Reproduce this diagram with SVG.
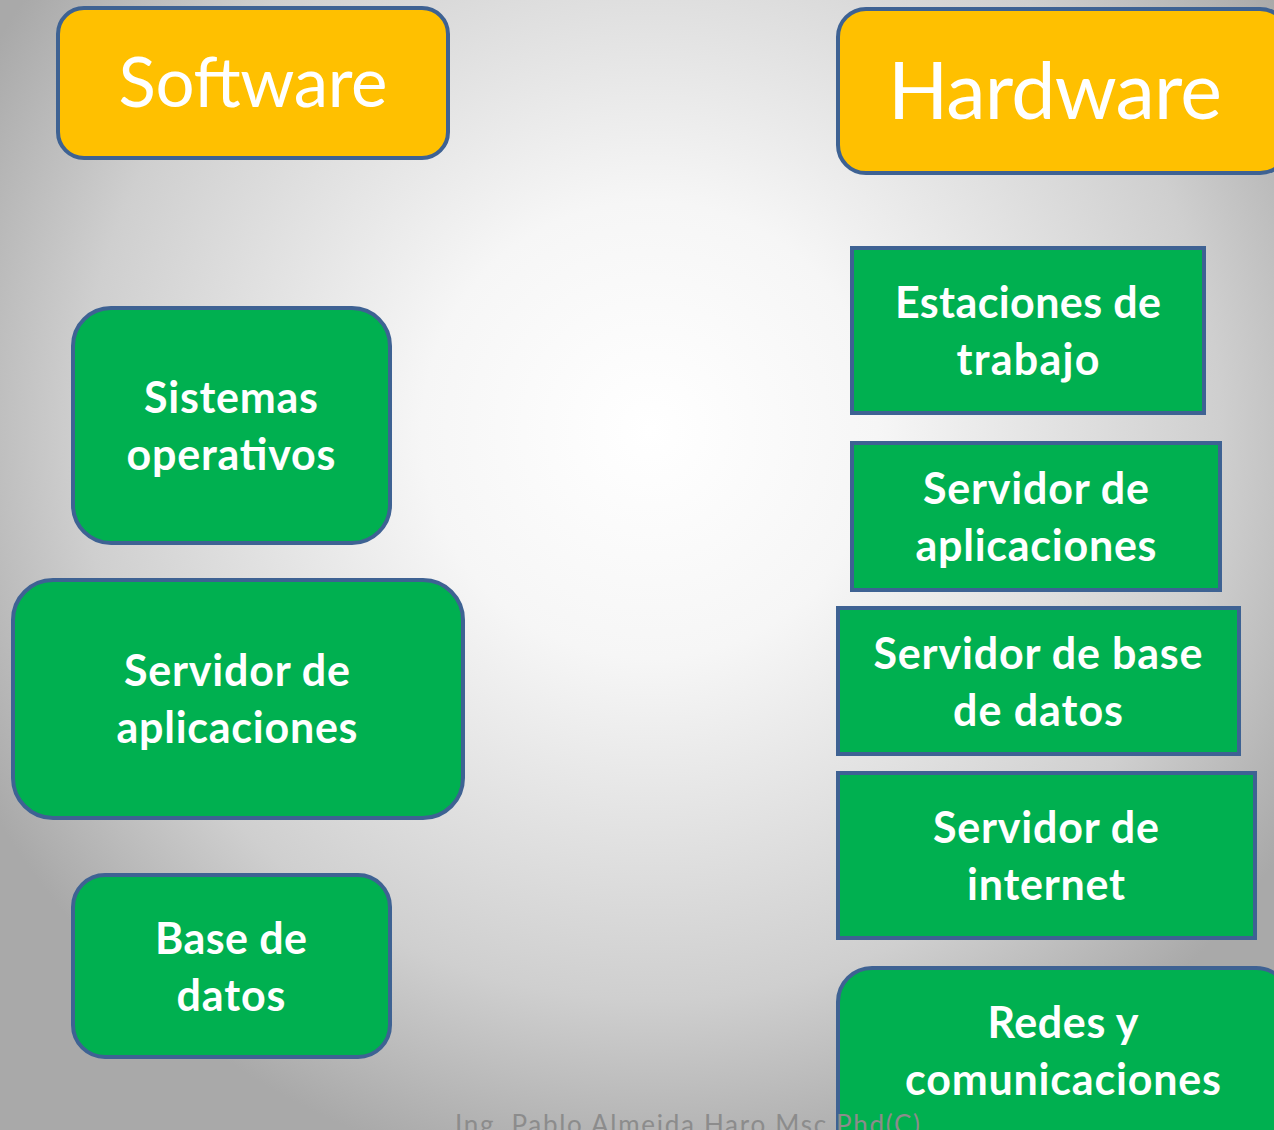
<svg xmlns="http://www.w3.org/2000/svg" width="1274" height="1130" viewBox="0 0 1274 1130">
<defs>
<radialGradient id="bg" gradientUnits="userSpaceOnUse" cx="650" cy="430" r="760">
<stop offset="0" stop-color="#ffffff"/>
<stop offset="0.3" stop-color="#f6f6f6"/>
<stop offset="0.75" stop-color="#cfcfcf"/>
<stop offset="1" stop-color="#a9a9a9"/>
</radialGradient>
<style>
.hdr{fill:#FFC000;stroke:#3E6293;stroke-width:4}
.box{fill:#00B050;stroke:#3E6293;stroke-width:4}
.ht{font-family:Lato,"Open Sans",sans-serif;fill:#ffffff;text-anchor:middle}
.bt{font-family:Lato,"Open Sans",sans-serif;font-weight:bold;font-size:43px;fill:#ffffff;text-anchor:middle}
.ft{font-family:Lato,"Open Sans",sans-serif;font-size:26px;fill:#8c8c8c}
</style>
</defs>
<rect x="0" y="0" width="1274" height="1130" fill="url(#bg)"/>
<g id="software">
<rect class="hdr" x="58" y="8" width="390" height="150" rx="26"/>
<text class="ht" x="253" y="107" font-size="69" textLength="269">Software</text>
</g>
<g id="hardware">
<rect class="hdr" x="838" y="9" width="450" height="164" rx="28"/>
<text class="ht" x="1055" y="119" font-size="79" textLength="334">Hardware</text>
</g>
<g id="sistemas">
<rect class="box" x="73" y="308" width="317" height="235" rx="38"/>
<text class="bt" x="231" y="413" textLength="174">Sistemas</text>
<text class="bt" x="231" y="470" textLength="209">operativos</text>
</g>
<g id="servidor-aplicaciones-sw">
<rect class="box" x="13" y="580" width="450" height="238" rx="40"/>
<text class="bt" x="237" y="686" textLength="226">Servidor de</text>
<text class="bt" x="237" y="743" textLength="241">aplicaciones</text>
</g>
<g id="base-datos">
<rect class="box" x="73" y="875" width="317" height="182" rx="32"/>
<text class="bt" x="231" y="954" textLength="152">Base de</text>
<text class="bt" x="231" y="1011" textLength="109">datos</text>
</g>
<g id="estaciones">
<rect class="box" x="852" y="248" width="352" height="165"/>
<text class="bt" x="1028" y="318" textLength="266">Estaciones de</text>
<text class="bt" x="1028" y="375" textLength="143">trabajo</text>
</g>
<g id="servidor-aplicaciones-hw">
<rect class="box" x="852" y="443" width="368" height="147"/>
<text class="bt" x="1036" y="504" textLength="226">Servidor de</text>
<text class="bt" x="1036" y="561" textLength="241">aplicaciones</text>
</g>
<g id="servidor-bd">
<rect class="box" x="838" y="608" width="401" height="146"/>
<text class="bt" x="1038" y="669" textLength="329">Servidor de base</text>
<text class="bt" x="1038" y="726" textLength="170">de datos</text>
</g>
<g id="servidor-internet">
<rect class="box" x="838" y="773" width="417" height="165"/>
<text class="bt" x="1046" y="843" textLength="226">Servidor de</text>
<text class="bt" x="1046" y="900" textLength="158">internet</text>
</g>
<g id="redes">
<rect class="box" x="838" y="968" width="452" height="200" rx="34"/>
<text class="bt" x="1063" y="1038" textLength="151">Redes y</text>
<text class="bt" x="1063" y="1095" textLength="316">comunicaciones</text>
</g>
<g id="connectors"></g>
<text class="ft" x="455" y="1134" textLength="465">Ing. Pablo Almeida Haro Msc Phd(C)</text>
</svg>
